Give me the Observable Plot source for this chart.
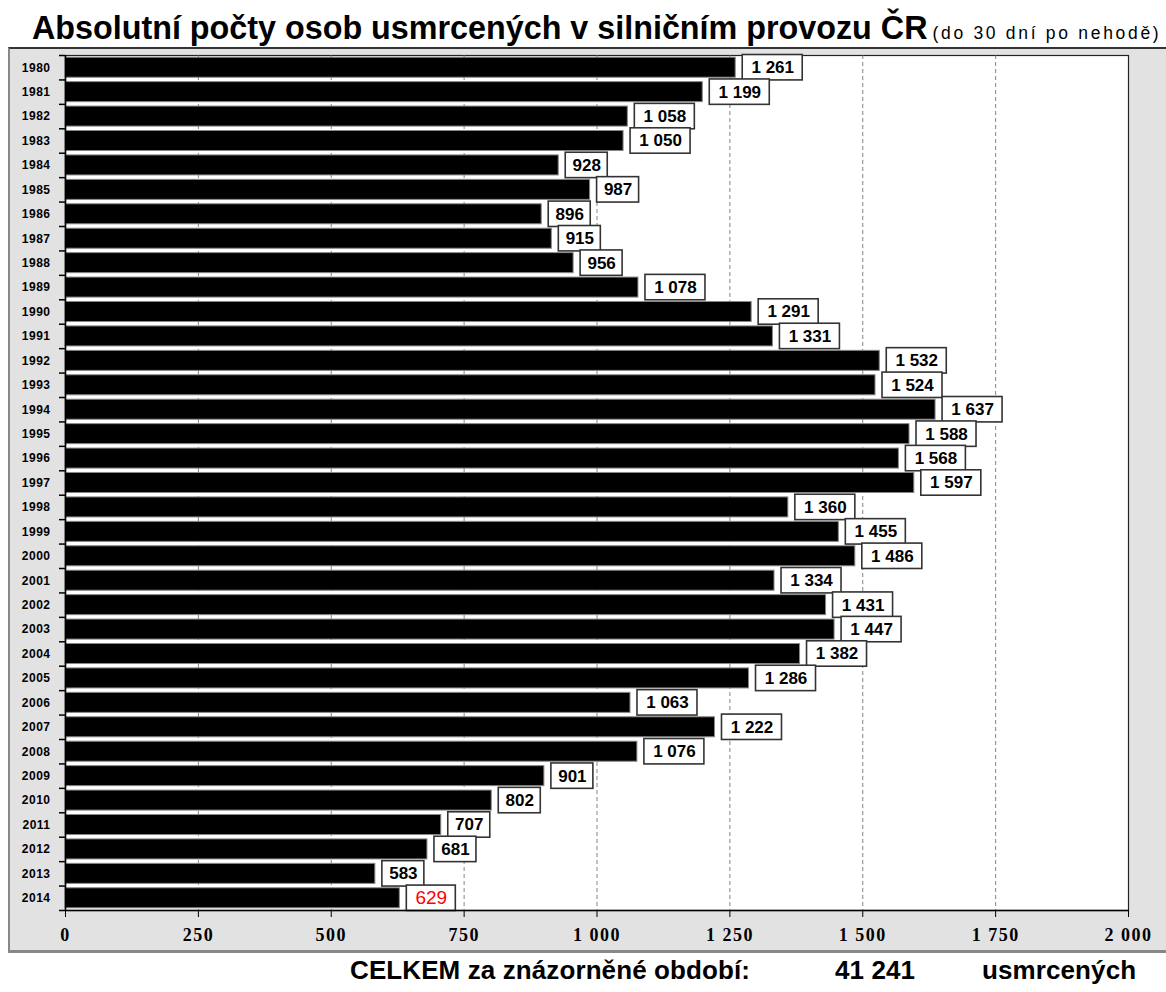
<!DOCTYPE html>
<html>
<head>
<meta charset="utf-8">
<script src="https://cdn.jsdelivr.net/npm/d3@7"></script>
<script src="https://cdn.jsdelivr.net/npm/@observablehq/plot@0.6"></script>
<style>
  html, body { margin: 0; padding: 0; background: #fff; }
  #page { position: relative; width: 1166px; height: 992px; overflow: hidden; font-family: "Liberation Sans", Arial, sans-serif; }
  #title { position: absolute; left: 32px; top: 10px; white-space: nowrap; color: #000; }
  #title .main { font-size: 32.3px; font-weight: bold; letter-spacing: 0px; }
  #title .sub { font-size: 17.5px; font-weight: normal; letter-spacing: 2.7px; margin-left: 5px; }
  #chart { position: absolute; left: 8px; top: 47px; }
  #chart svg { display: block; }
  .cap { position: absolute; top: 955px; font-size: 26px; font-weight: bold; white-space: nowrap; color: #000; letter-spacing: 0.1px; }
</style>
</head>
<body>
<div id="page">
  <div id="title"><span class="main">Absolutní počty osob usmrcených v silničním provozu ČR</span><span class="sub">(do 30 dní po nehodě)</span></div>
  <div id="chart"></div>
  <div class="cap" style="left:350px">CELKEM za znázorněné období:</div>
  <div class="cap" style="left:835px">41 241</div>
  <div class="cap" style="left:982px">usmrcených</div>
</div>
<script>
const years = [1980,1981,1982,1983,1984,1985,1986,1987,1988,1989,1990,1991,1992,1993,1994,1995,1996,1997,1998,1999,2000,2001,2002,2003,2004,2005,2006,2007,2008,2009,2010,2011,2012,2013,2014];
const values = [1261,1199,1058,1050,928,987,896,915,956,1078,1291,1331,1532,1524,1637,1588,1568,1597,1360,1455,1486,1334,1431,1447,1382,1286,1063,1222,1076,901,802,707,681,583,629];
const xTicks = [0,250,500,750,1000,1250,1500,1750,2000];
const highlightYear = 2014;

const data = years.map((year, i) => ({year, value: values[i]}));
const boundaries = [years[0] - 0.5, ...years.map(y => y + 0.5)];

const fmt = d3.formatLocale({decimal: ",", thousands: " ", grouping: [3], currency: ["", ""]}).format(",d");

function labelMarks(rows, w, textOpts) {
  return [
    Plot.rect(rows, {
      x1: "value", x2: "value",
      y1: d => d.year - 0.52, y2: d => d.year + 0.52,
      dx: 7, insetRight: -w,
      fill: "white", stroke: "#333", strokeWidth: 1.6
    }),
    Plot.text(rows, {
      x: "value", y: "year", text: d => fmt(d.value),
      dx: 7 + w / 2, textAnchor: "middle",
      fontFamily: "Liberation Sans, Arial, sans-serif",
      ...textOpts
    })
  ];
}

const normal = data.filter(d => d.year !== highlightYear);
const three = normal.filter(d => d.value < 1000);
const four = normal.filter(d => d.value >= 1000);
const hi = data.filter(d => d.year === highlightYear);

const plot = Plot.plot({
  width: 1156,
  height: 901,
  marginLeft: 55,
  marginRight: 38,
  marginTop: 6,
  marginBottom: 40,
  style: {background: "#e2e2e2", overflow: "visible"},
  x: {domain: [0, 2000], label: null},
  y: {domain: [boundaries[0], boundaries[boundaries.length - 1]], reverse: true, label: null},
  marks: [
    Plot.frame({fill: "white", stroke: "#222", strokeWidth: 1.2}),
    Plot.gridX(xTicks.slice(1, -1), {stroke: "#666", strokeOpacity: 1, strokeDasharray: "4,3", strokeWidth: 0.8}),
    Plot.rect(data, {
      x1: 0, x2: "value",
      y1: d => d.year - 0.41, y2: d => d.year + 0.41,
      fill: "black", stroke: "#888", strokeWidth: 1
    }),
    ...labelMarks(three, 42, {fontWeight: "bold", fontSize: 17, fill: "black"}),
    ...labelMarks(four, 60, {fontWeight: "bold", fontSize: 17, fill: "black"}),
    ...labelMarks(hi, 49, {fontWeight: "normal", fontSize: 19, fill: "red"}),
    Plot.ruleY([boundaries[boundaries.length - 1]], {stroke: "black", strokeWidth: 1.5}),
    Plot.ruleX([0], {stroke: "black", strokeWidth: 1.5}),
    Plot.axisX({
      ticks: xTicks, tickFormat: fmt, tickSize: 7, tickPadding: 11, label: null,
      stroke: "black", fill: "black"
    }),
    Plot.axisY({
      ticks: years, tickFormat: d => String(d), tickSize: 0, tickPadding: 15, label: null,
      fill: "black"
    }),
    Plot.axisY({
      ticks: boundaries, tickFormat: () => "", tickSize: 6, label: null, stroke: "black", strokeWidth: 1.5
    })
  ]
});
plot.style.borderTop = "2px solid #333";
plot.style.borderLeft = "2px solid #888";
plot.style.borderBottom = "3px solid #888";
d3.select(plot).selectAll('g[aria-label="x-axis tick label"]')
  .attr("font-size", null).attr("font-family", null)
  .style("font-size", "18px").style("font-family", "'Liberation Serif', 'Times New Roman', serif")
  .style("font-weight", "bold").style("letter-spacing", "1.5px");
d3.select(plot).selectAll('g[aria-label="y-axis tick label"]')
  .attr("font-size", null).attr("font-family", null)
  .style("font-size", "12px").style("font-family", "'Liberation Sans Narrow', 'Liberation Sans', Arial, sans-serif")
  .style("font-weight", "bold").style("letter-spacing", "0.5px");
document.getElementById("chart").appendChild(plot);
</script>
</body>
</html>
